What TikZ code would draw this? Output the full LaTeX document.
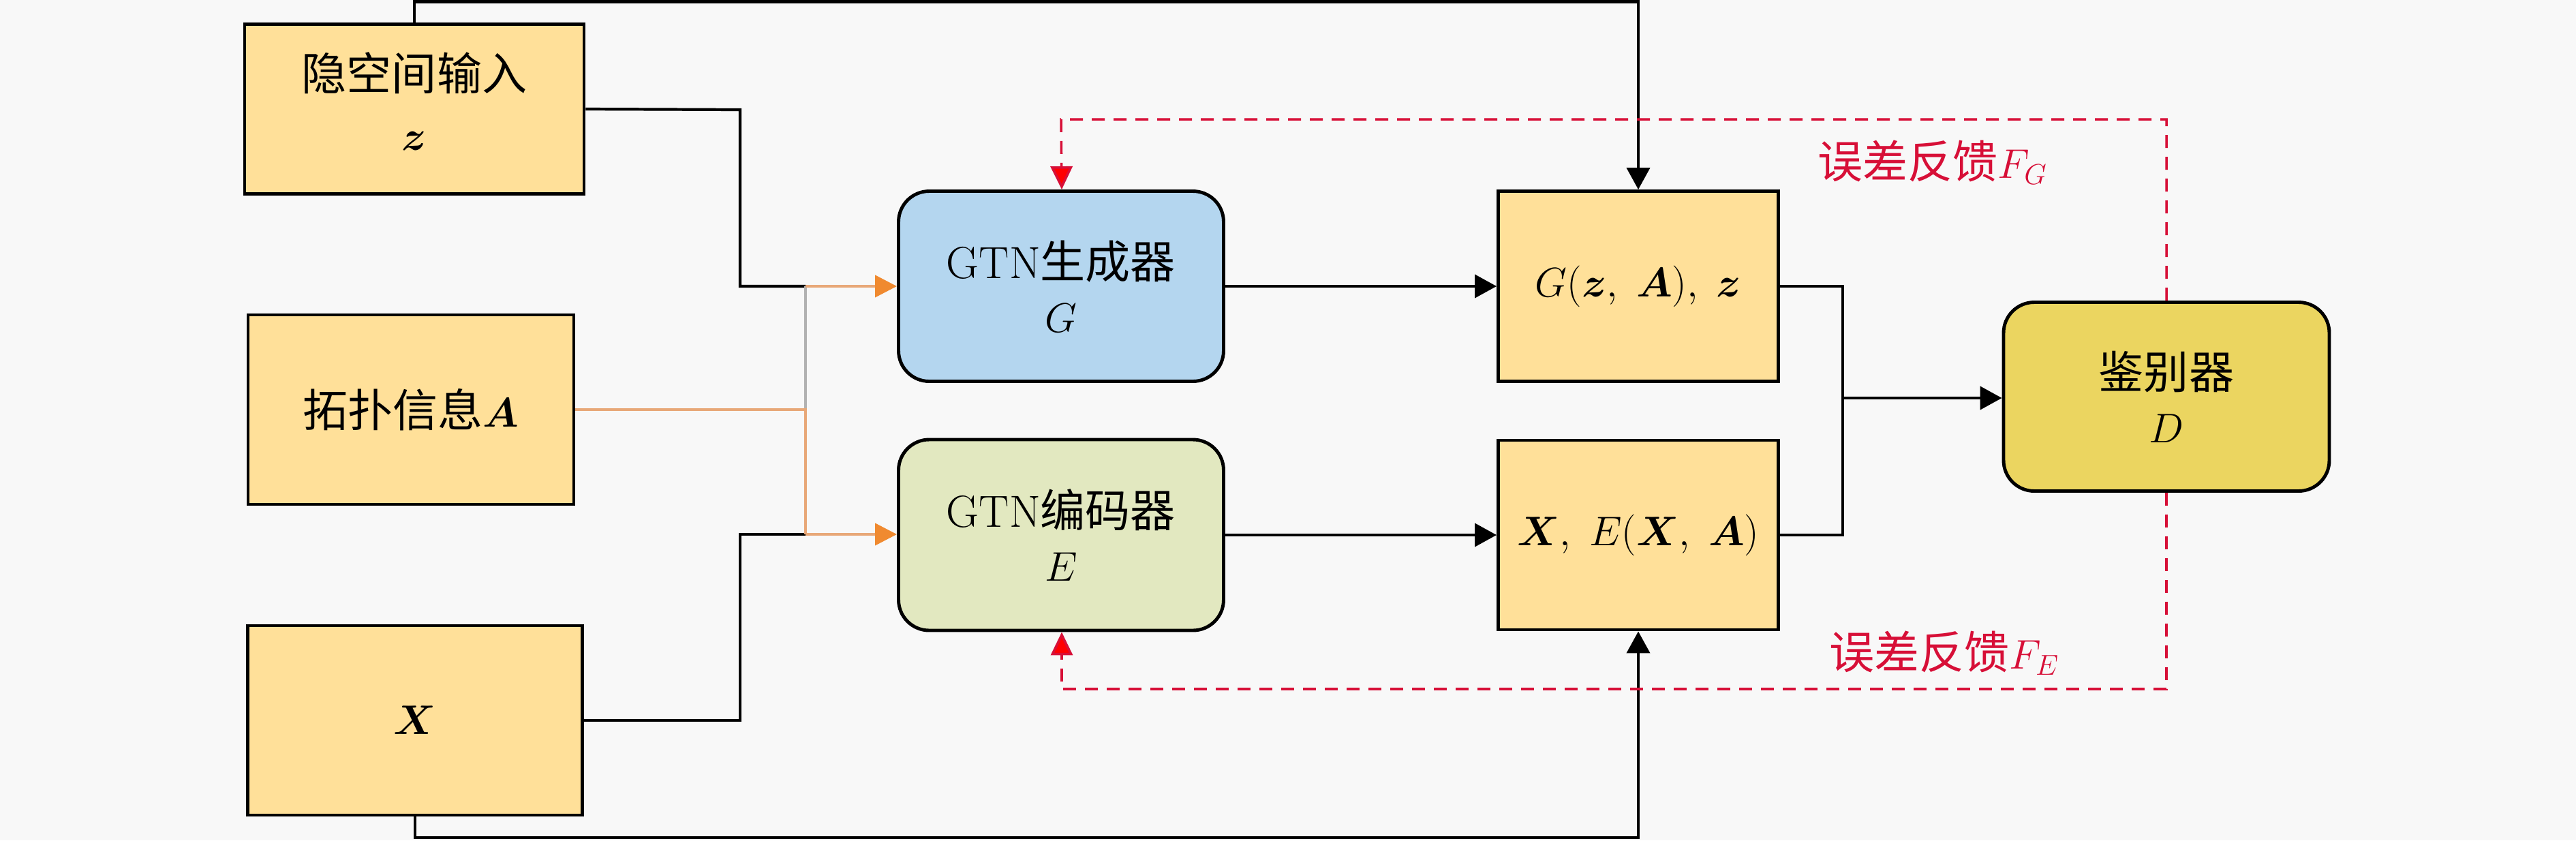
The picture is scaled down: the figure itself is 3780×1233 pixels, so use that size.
\documentclass[tikz,border=0pt]{standalone}
\usepackage{amsmath,amssymb}
\usepackage{fontspec}
\newfontfamily\cjk{Noto Sans CJK SC}
\usetikzlibrary{arrows.meta}
\definecolor{bggray}{RGB}{248,248,248}
\definecolor{inyellow}{RGB}{255,224,153}
\definecolor{genblue}{RGB}{180,214,239}
\definecolor{encgreen}{RGB}{226,232,192}
\definecolor{disgold}{RGB}{235,213,96}
\definecolor{linkorange}{RGB}{232,168,120}
\definecolor{tiporange}{RGB}{240,138,48}
\definecolor{feedred}{RGB}{215,15,55}
\tikzset{
  blk/.style = {draw, line width=1.4pt, fill=inyellow, align=center,
                inner sep=0pt, font=\fontsize{18.8}{22.5}\selectfont},
  gtn/.style = {blk, rounded corners=4.5mm},
  link/.style = {line width=1.2pt, black},
  blkarrow/.style = {link, -{Triangle[length=3.2mm,width=3.4mm]}},
  orangelink/.style = {line width=1.2pt, linkorange},
  orangearrow/.style = {orangelink, -{Triangle[length=3.2mm,width=3.2mm,color=tiporange]}},
  feed/.style = {line width=1pt, feedred, dash pattern=on 1.9mm off 1.3mm},
  feedarrow/.style = {feed, -{Triangle[length=3.4mm,width=3.2mm,fill=red]}},
  feedlabel/.style = {text=feedred, font=\fontsize{18.8}{22.5}\selectfont}
}

\begin{document}
\begin{tikzpicture}[x=0.1mm, y=-0.1mm]
	\def \top{2.5}
	\def \bot{1229}
	\def \splitx{1086}
	\def \joinx{1182}
	\def \mergex{2704}
	\def \loopx{1558}

	\fill[bggray] (0,0) rectangle (3780,1233);
	\useasboundingbox (0,0) rectangle (3780,1233);

	% Inputs
	\node[blk, minimum width=49.8mm, minimum height=24.9mm] (latent) at (608,160)
		{\raisebox{1.2mm}{\begin{tabular}{@{}c@{}}{\cjk 隐空间输入}\\[2.5pt]$\boldsymbol{z}$\end{tabular}}};
	\node[blk, minimum width=47.8mm, minimum height=27.8mm] (topo) at (603,601)
		{{\cjk 拓扑信息}$\boldsymbol{A}$};
	\node[blk, minimum width=49.1mm, minimum height=27.8mm] (feat) at (609,1057)
		{$\boldsymbol{X}$};

	% GTN
	\node[gtn, fill=genblue, minimum width=47.7mm, minimum height=27.9mm] (gen) at (1557,420)
		{GTN{\cjk 生成器}\\$G$};
	\node[gtn, fill=encgreen, minimum width=47.7mm, minimum height=28.0mm] (enc) at (1557,785)
		{GTN{\cjk 编码器}\\$E$};

	% Outputs
	\node[blk, minimum width=41.1mm, minimum height=27.9mm] (fake) at (2404,420)
		{$G(\boldsymbol{z},\;\boldsymbol{A}),\;\boldsymbol{z}$};
	\node[blk, minimum width=41.1mm, minimum height=27.8mm] (real) at (2404,785)
		{$\boldsymbol{X},\;E(\boldsymbol{X},\;\boldsymbol{A})$};

	% Discriminator
	\node[gtn, fill=disgold, minimum width=47.8mm, minimum height=27.7mm] (disc) at (3179,582)
		{{\cjk 鉴别器}\\$D$};

	% Bends
	\coordinate (zbend) at (\splitx,161);
	\coordinate (zjoin) at (\joinx,420);
	\coordinate (ajoin) at (\joinx,601);
	\coordinate (xbend) at (\splitx,1057);
	\coordinate (xjoin) at (\joinx,784);
	\coordinate (mtop) at (\mergex,420);
	\coordinate (mbot) at (\mergex,785);
	\coordinate (mmid) at (\mergex,584);

	% z and X into the generator / encoder
	\draw[link] (latent.east) -- (zbend) |- (zjoin);
	\draw[link] (feat.east) -- (xbend) |- (xjoin);
	\draw[line width=1.2pt, black!30] (ajoin) -- (zjoin);
	\draw[orangelink] (topo.east |- ajoin) -- (ajoin) -- (xjoin);
	\draw[orangearrow] (zjoin) -- (gen.west |- zjoin);
	\draw[orangearrow] (xjoin) -- (enc.west |- xjoin);

	% Bypass lines
	\draw[blkarrow] (latent.north) -- (latent.north |- 0,\top) -| (fake.north);
	\draw[blkarrow] (feat.south) -- (feat.south |- 0,\bot) -| (real.south);

	% Forward
	\draw[blkarrow] (gen.east) -- (fake.west);
	\draw[blkarrow] (enc.east) -- (real.west);
	\draw[link] (fake.east) -- (mtop) -- (mbot) -- (real.east);
	\draw[blkarrow] (mmid) -- (disc.west |- mmid);

	% Feedback
	\draw[feedarrow] (disc.north) |- (\loopx,175) -- (\loopx,175 -| gen.north) -- (gen.north -| \loopx,0);
	\draw[feedarrow] (disc.south) |- (\loopx,1011) -- (enc.south -| \loopx,0);
	\node[feedlabel] (fglabel) at (2836,238) {{\cjk 误差反馈}$F_G$};
	\node[feedlabel] (felabel) at (2853,958) {{\cjk 误差反馈}$F_E$};
\end{tikzpicture}
\end{document}
